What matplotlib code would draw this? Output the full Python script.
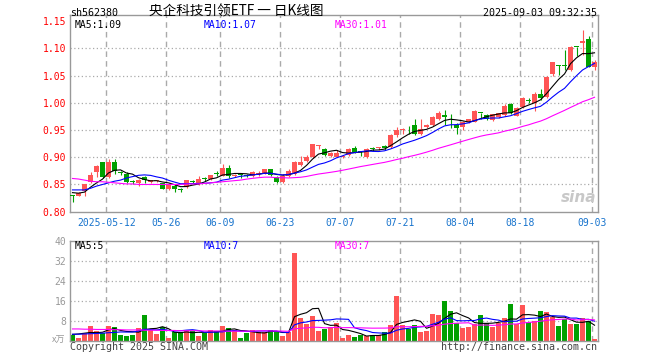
import numpy as np
import pandas as pd
import matplotlib
matplotlib.use("Agg")
import matplotlib.pyplot as plt

plt.rcParams['font.family'] = ['DejaVu Sans Mono', 'Noto Sans CJK SC']

# daily candles 2025-04-29 .. 2025-09-03 (88 trading days)
opens = [.830, .829, .838, .854, .873, .891, .864, .892, .873, .869,
         .855, .853, .864, .854, .856, .852, .842, .848, .841, .845,
         .857, .851, .861, .860, .870, .866, .881, .866, .868, .867,
         .866, .869, .870, .878, .863, .854, .866, .869, .886, .894,
         .900, .920, .915, .902, .901, .901, .904, .917, .911, .901,
         .916, .917, .921, .918, .941, .950, .952, .959, .943, .956,
         .959, .970, .978, .963, .960, .955, .964, .965, .982, .978,
         .968, .974, .978, .997, .976, .993, 1.004, .999, 1.017, 1.011,
         1.052, 1.068, 1.069, 1.060, 1.103, 1.109, 1.118, 1.066]
highs = [.830, .836, .851, .873, .886, .891, .896, .897, .875, .872,
         .858, .860, .865, .859, .858, .853, .852, .850, .843, .859,
         .858, .865, .863, .868, .874, .888, .886, .870, .870, .869,
         .874, .874, .879, .879, .865, .870, .878, .893, .902, .904,
         .925, .922, .917, .909, .913, .904, .917, .920, .912, .917,
         .918, .919, .922, .942, .955, .953, .957, .971, .971, .961,
         .975, .984, .987, .979, .962, .967, .971, .986, .982, .979,
         .980, .982, .997, 1.000, .993, 1.010, 1.009, 1.020, 1.025, 1.049,
         1.075, 1.069, 1.097, 1.104, 1.103, 1.133, 1.122, 1.078]
lows = [.818, .828, .829, .853, .864, .862, .862, .870, .868, .853,
        .851, .848, .852, .853, .855, .841, .840, .837, .837, .843,
        .852, .849, .856, .858, .866, .865, .862, .864, .861, .863,
        .864, .866, .869, .866, .853, .852, .864, .868, .884, .892,
        .898, .915, .902, .900, .900, .898, .902, .907, .902, .899,
        .912, .914, .914, .917, .938, .943, .943, .941, .941, .954,
        .957, .969, .960, .953, .943, .950, .962, .964, .970, .969,
        .966, .972, .976, .980, .975, .991, .999, .984, 1.005, 1.009,
        1.050, 1.051, 1.060, 1.058, 1.085, 1.088, 1.065, 1.060]
closes = [.829, .834, .850, .867, .884, .864, .891, .874, .871, .855,
          .854, .858, .858, .858, .857, .842, .850, .841, .840, .858,
          .855, .860, .860, .867, .869, .881, .866, .868, .867, .866,
          .872, .871, .878, .867, .854, .866, .875, .892, .892, .900,
          .924, .921, .904, .907, .908, .903, .916, .909, .910, .915,
          .915, .918, .917, .941, .950, .952, .951, .943, .951, .959,
          .973, .982, .973, .962, .953, .965, .970, .985, .981, .971,
          .979, .981, .995, .982, .991, 1.008, 1.003, 1.016, 1.009, 1.048,
          1.074, 1.067, 1.067, 1.103, 1.102, 1.113, 1.066, 1.075]
volumes = [2.1, 1.2, 2.9, 5.9, 4.0, 2.9, 5.9, 5.5, 2.3, 1.9,
           2.3, 5.1, 10.3, 4.3, 2.7, 5.6, 1.1, 3.3, 3.3, 4.3,
           4.0, 1.9, 3.2, 4.3, 4.0, 5.9, 5.1, 4.3, 1.1, 3.1,
           4.3, 3.3, 3.6, 4.3, 3.3, 1.9, 3.3, 35.2, 9.1, 6.5,
           9.9, 4.0, 4.7, 5.6, 6.9, 1.2, 2.3, 1.6, 2.3, 1.9,
           2.3, 2.3, 3.6, 6.3, 18.0, 6.3, 4.7, 6.3, 3.5, 4.0,
           10.7, 10.3, 16.0, 11.9, 6.9, 5.2, 5.6, 6.7, 10.3, 6.9,
           5.6, 7.2, 9.1, 14.7, 6.5, 14.3, 7.6, 8.0, 11.9, 11.6,
           9.3, 5.9, 8.5, 6.7, 6.7, 8.9, 8.0, 0.7]

# moving-average values read off the chart where the window reaches
# back before the first visible day
ma5_head = [.835, .834, .836, .845]
ma10_head = [.840, .840, .840, .843, .847, .850, .853, .856, .858]
ma30_head = [.861, .860, .858, .856, .855, .855, .854, .853, .852, .851,
             .851, .850, .850, .850, .850, .850, .850, .850, .850, .851,
             .851, .851, .852, .853, .854, .855, .856, .857, .858]
vma5_head = [2.5, 2.7, 3.0, 3.3]
vma10_head = [2.6, 2.6, 2.7, 2.8, 2.9, 3.0, 3.2, 3.3, 3.5]
vma30_head = [4.7, 4.7, 4.6, 4.6, 4.5, 4.5, 4.5, 4.4, 4.4, 4.3,
              4.3, 4.3, 4.2, 4.2, 4.2, 4.1, 4.1, 4.1, 4.0, 4.0,
              4.0, 4.0, 3.9, 3.9, 3.9, 3.9, 3.8, 3.8, 3.8]

tick_idx = [6, 16, 25, 35, 45, 55, 65, 75, 87]
tick_labels = ['2025-05-12', '05-26', '06-09', '06-23', '07-07',
               '07-21', '08-04', '08-18', '09-03']


def moving(vals, n, head):
    s = pd.Series(vals).rolling(n).mean().to_numpy()
    s[:len(head)] = head
    return s


o = np.array(opens); h = np.array(highs); l = np.array(lows); c = np.array(closes)
v = np.array(volumes)
x = np.arange(len(c))
up = c >= o
RED, GREEN = '#ff5555', '#00a000'
cols = np.where(up, RED, GREEN)

W, H = 660, 360
def box(left, top, right, bottom):
    return [left / W, 1 - bottom / H, (right - left) / W, (bottom - top) / H]

fig = plt.figure(figsize=(6.6, 3.6), dpi=100)
ax = fig.add_axes(box(70.3, 15, 597.7, 211.7))
axv = fig.add_axes(box(70.3, 240.7, 597.7, 340.7))

grid_x = np.array(tick_idx) - 0.37
for a in (ax, axv):
    a.set_xlim(-0.367, 87.53)
    for s in a.spines.values():
        s.set_color('#999999')
        s.set_linewidth(1.0)
    for gx in grid_x:
        a.axvline(gx, color='#aaaaaa', lw=1.0, ls=(0, (4, 3)), zorder=0)
    a.tick_params(length=0)

# price panel
ax.set_ylim(0.80, 1.1612)
for gy in [0.85, 0.90, 0.95, 1.00, 1.05, 1.10]:
    ax.axhline(gy, color='#aaaaaa', lw=0.9, ls=(0, (1, 2)), zorder=0)
ax.vlines(x, l, h, color=cols, lw=0.8, zorder=2)
body_lo = np.minimum(o, c)
body_h = np.maximum(np.abs(c - o), 0.0016)
ax.bar(x, body_h, bottom=body_lo, width=0.8, color=cols, linewidth=0, zorder=3)

ma5 = moving(closes, 5, ma5_head)
ma10 = moving(closes, 10, ma10_head)
ma30 = moving(closes, 30, ma30_head)
ax.plot(x, ma5, color='black', lw=0.8, zorder=4)
ax.plot(x, ma10, color='#0000ff', lw=0.8, zorder=4)
ax.plot(x, ma30, color='#ff00ff', lw=0.8, zorder=4)

yt = [0.80, 0.85, 0.90, 0.95, 1.00, 1.05, 1.10, 1.15]
ax.set_yticks(yt)
ax.set_yticklabels(['%.2f' % t for t in yt], color='red', fontsize=7)
ax.tick_params(axis='y', pad=3)
ax.set_xticks(grid_x)
ax.set_xticklabels(tick_labels, color='#1874cd', fontsize=7)
ax.tick_params(axis='x', pad=4.3)

# watermark
fig.text(596 / W, 1 - 197 / H, 'sina', ha='right', va='center', fontsize=11,
         style='italic', fontweight='bold', color='#c8c8c8', family='DejaVu Sans')

# volume panel
axv.set_ylim(0, 40)
for gy in [8, 16, 24, 32]:
    axv.axhline(gy, color='#aaaaaa', lw=0.9, ls=(0, (1, 2)), zorder=0)
axv.bar(x, v, width=0.8, color=cols, linewidth=0, zorder=2)
axv.plot(x, moving(volumes, 5, vma5_head), color='black', lw=0.8, zorder=4)
axv.plot(x, moving(volumes, 10, vma10_head), color='#0000ff', lw=0.8, zorder=4)
axv.plot(x, moving(volumes, 30, vma30_head), color='#ff00ff', lw=0.8, zorder=4)
axv.set_yticks([8, 16, 24, 32, 40])
axv.set_yticklabels(['8', '16', '24', '32', '40'], color='#999999', fontsize=7)
axv.tick_params(axis='y', pad=3)
axv.set_xticks([])

# header and legends
fig.text(70 / W, 1 - 13 / H, 'sh562380', ha='left', va='center', fontsize=7.2)
fig.text(236.5 / W, 1 - 11.5 / H, '央企科技引领ETF 一 日K线图', ha='center', va='center',
         fontsize=9.8, family=['Noto Sans CJK SC', 'DejaVu Sans'])
fig.text(597 / W, 1 - 13 / H, '2025-09-03 09:32:35', ha='right', va='center', fontsize=7.2)

fig.text(75 / W, 1 - 25.5 / H, 'MA5:%.2f' % ma5[-1], ha='left', va='center', fontsize=7)
fig.text(204 / W, 1 - 25.5 / H, 'MA10:%.2f' % ma10[-1], ha='left', va='center',
         fontsize=7, color='#0000ff')
fig.text(335 / W, 1 - 25.5 / H, 'MA30:%.2f' % ma30[-1], ha='left', va='center',
         fontsize=7, color='#ff00ff')
fig.text(75 / W, 1 - 246 / H, 'MA5:5', ha='left', va='center', fontsize=7)
fig.text(204 / W, 1 - 246 / H, 'MA10:7', ha='left', va='center', fontsize=7, color='#0000ff')
fig.text(335 / W, 1 - 246 / H, 'MA30:7', ha='left', va='center', fontsize=7, color='#ff00ff')

fig.text(65 / W, 1 - 340 / H, 'x万', ha='right', va='center', fontsize=6.5,
         color='#999999', family=['Noto Sans CJK SC', 'DejaVu Sans'])
fig.text(70 / W, 1 - 346.5 / H, 'Copyright 2025 SINA.COM', ha='left', va='center',
         fontsize=7.2, color='#444444')
fig.text(597 / W, 1 - 346.5 / H, 'http://finance.sina.com.cn', ha='right', va='center',
         fontsize=7.2, color='#444444')

fig.savefig('out.png', dpi=100)
